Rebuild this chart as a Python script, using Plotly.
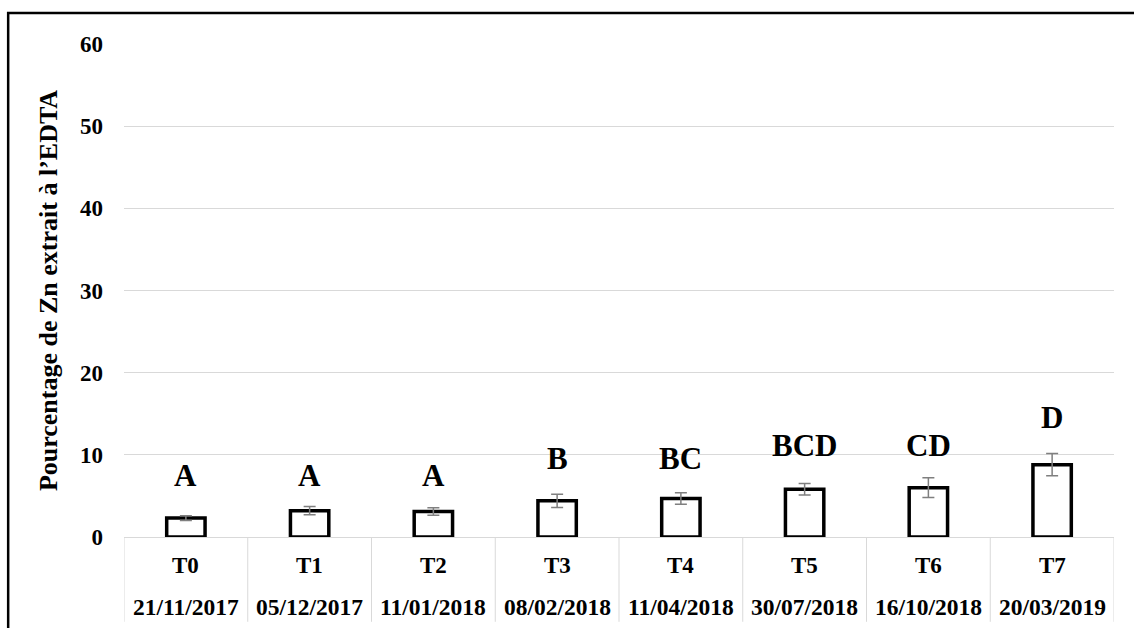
import plotly.graph_objects as go

# données
traitements = ['T0', 'T1', 'T2', 'T3', 'T4', 'T5', 'T6', 'T7']
dates = ['21/11/2017', '05/12/2017', '11/01/2018', '08/02/2018',
         '11/04/2018', '30/07/2018', '16/10/2018', '20/03/2019']
zn_pct = [2.3, 3.2, 3.1, 4.4, 4.7, 5.8, 6.0, 8.8]
zn_err = [0.3, 0.5, 0.45, 0.8, 0.7, 0.7, 1.2, 1.35]
lettres = ['A', 'A', 'A', 'B', 'BC', 'BCD', 'CD', 'D']
lettres_y = [7.5, 7.5, 7.5, 9.6, 9.6, 11.1, 11.1, 14.5]

police = 'Liberation Serif'
idx = list(range(len(traitements)))

fig = go.Figure()
fig.add_trace(go.Bar(
    x=idx, y=zn_pct, width=0.31,
    marker=dict(color='white', line=dict(color='black', width=3.5)),
    error_y=dict(type='data', array=zn_err, color='#7f7f7f', thickness=1.5, width=6),
    showlegend=False,
))

# lettres de significativité
for i, (l, ly) in enumerate(zip(lettres, lettres_y)):
    fig.add_annotation(x=i, y=ly, text='<b>%s</b>' % l, showarrow=False, yanchor='middle',
                       font=dict(family=police, size=31, color='black'))

# tableau sous l'axe : traitements + dates
for i in idx:
    fig.add_annotation(x=i, y=-0.057, yref='paper', text='<b>%s</b>' % traitements[i], showarrow=False,
                       yanchor='middle', font=dict(family=police, size=23, color='black'))
    fig.add_annotation(x=i, y=-0.142, yref='paper', text='<b>%s</b>' % dates[i], showarrow=False,
                       yanchor='middle', font=dict(family=police, size=23.5, color='black'))
for i in range(len(traitements) + 1):
    fig.add_shape(type='line', x0=i - 0.5, x1=i - 0.5, y0=0, y1=-0.172, xref='x', yref='paper',
                  line=dict(color='#d9d9d9', width=1))

# cadre extérieur
fig.add_shape(type='rect', xref='paper', yref='paper', x0=-0.117, x1=1.05, y0=-0.3, y1=1.063,
              line=dict(color='black', width=2.5), fillcolor='rgba(0,0,0,0)')

fig.update_layout(
    width=1134, height=628,
    margin=dict(l=124, r=20, t=44, b=91),
    plot_bgcolor='white', paper_bgcolor='white',
    font=dict(family=police, color='black'),
    xaxis=dict(range=[-0.5, 7.5], showticklabels=False, showgrid=False, zeroline=False,
               showline=False, ticks=''),
    yaxis=dict(range=[0, 60], dtick=10, showgrid=True, gridcolor='#d9d9d9', gridwidth=1,
               zeroline=True, zerolinecolor='#d9d9d9', zerolinewidth=1, showline=False,
               ticklabelstandoff=20, tickprefix='<b>', ticksuffix='</b>',
               tickfont=dict(family=police, size=23, color='black'),
               title=dict(text="<b>Pourcentage de Zn extrait à l\u2019EDTA</b>", standoff=14,
                          font=dict(family=police, size=26, color='black'))),
)

fig.write_html('out.html', config={'displayModeBar': False},
               post_script="document.body.style.margin='0';")
